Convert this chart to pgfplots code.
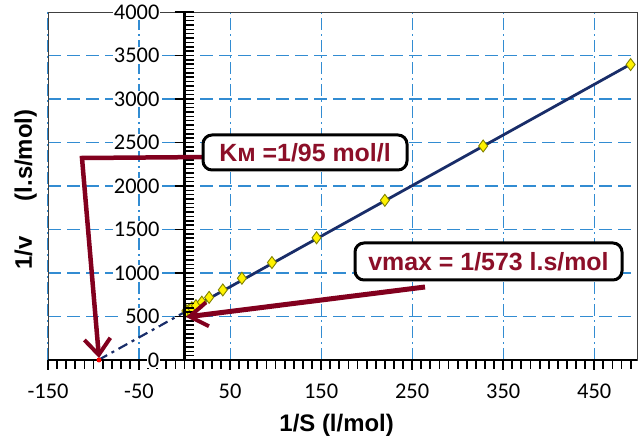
\documentclass[border=0pt]{standalone}
\usepackage{pgfplots}
\pgfplotsset{compat=1.18}
\usepackage{fontspec}
\setmainfont{Liberation Sans}
\newfontfamily\tickfont{Carlito}
\usetikzlibrary{arrows.meta}
\definecolor{gridblue}{RGB}{50,140,210}
\definecolor{navyline}{RGB}{25,45,105}
\definecolor{maroonc}{RGB}{130,0,30}
\definecolor{txtred}{RGB}{140,15,40}
\definecolor{oliveedge}{RGB}{130,130,0}
\begin{document}
\begin{tikzpicture}
\useasboundingbox (0,0) rectangle (640bp,442bp);
\begin{axis}[
  at={(48bp,82bp)}, anchor=south west,
  scale only axis, width=589bp, height=348bp,
  xmin=-150, xmax=497, ymin=0, ymax=4000,
  xtick={-150,-50,...,450},
  ytick={500,1000,...,3500},
  xmajorticks=false, ymajorticks=false,
  axis line style={draw=black!75, line width=0.8bp},
  xmajorgrids, ymajorgrids,
  x grid style={gridblue, line width=1.1bp, dash pattern=on 12bp off 4bp on 2bp off 4bp},
  y grid style={gridblue, line width=1.1bp, dash pattern=on 13bp off 6bp},
  xlabel={1/S (l/mol)},
  xlabel style={font=\bfseries\fontsize{24}{24}\selectfont, at={(axis description cs:0.49,-0.187)}, anchor=center},
  ylabel={1/v\hspace{35bp}(l.s/mol)},
  ylabel style={font=\bfseries\fontsize{24}{24}\selectfont, at={(axis description cs:-0.038,0.49)}, anchor=center},
  clip=false,
]
\addplot[navyline, line width=2.2bp, dash pattern=on 10bp off 5bp on 3bp off 5bp] coordinates {(-94.6,0) (0,550)};
\addplot[navyline, line width=2.8bp] coordinates {(0,550) (490,3400)};
\addplot[only marks, mark=diamond*, mark size=6bp, mark options={fill=yellow, draw=oliveedge, line width=0.9bp}] coordinates {
(2,565) (5,580) (8,600) (12.5,625) (19,665) (27,720) (42,805) (63,940) (96,1120) (145,1405) (220,1835) (328,2460) (490,3396)};
\end{axis}
% x axis (bottom, thick, ticks outside)
\begin{axis}[
  at={(48bp,82bp)}, anchor=south west,
  scale only axis, width=589bp, height=348bp,
  xmin=-150, xmax=497, ymin=0, ymax=4000,
  axis y line=none, axis x line=bottom,
  axis line style={black, line width=2.5bp, -},
  xtick={-150,-50,...,450},
  minor xtick={-150,-140,...,490},
  tick align=outside,
  major tick length=10bp, minor tick length=9bp,
  every tick/.style={black, line width=1.8bp},
  /pgf/number format/assume math mode=true,
  /pgf/number format/1000 sep={},
  xticklabel style={font=\tickfont\fontsize{22.5}{22.5}\selectfont, yshift=-10bp},
]
\addplot[draw=none] coordinates {(0,0)};
\end{axis}
% y axis at x = 0
\begin{axis}[
  at={(48bp,82bp)}, anchor=south west,
  scale only axis, width=589bp, height=348bp,
  xmin=-150, xmax=497, ymin=0, ymax=4000,
  axis x line=none, axis y line=center,
  xtick=\empty,
  axis line style={black, line width=2.5bp, -},
  ytick={0,500,...,4000},
  minor ytick={0,50,...,4000},
  tick align=center,
  major tick length=10bp, minor tick length=9bp,
  major tick style={black, line width=1.6bp, xshift=-5bp},
  minor tick style={black, line width=1.5bp, xshift=4.5bp},
  /pgf/number format/assume math mode=true,
  /pgf/number format/1000 sep={},
  yticklabel style={font=\tickfont\fontsize{22.5}{22.5}\selectfont, fill=white, inner sep=1bp, anchor=east, xshift=-19bp},
]
\addplot[draw=none] coordinates {(0,0)};
\end{axis}
\draw[maroonc, line width=4.5bp, -{Straight Barb[length=16bp, width=26bp, line width=4bp]}] (210bp,285bp) -- (82bp,284bp) -- (99bp,84bp);
\draw[maroonc, line width=5bp, -{Straight Barb[length=18bp, width=24bp, line width=4bp]}] (425bp,155bp) -- (186bp,125bp);
\fill[red] (99bp,82bp) circle (2.5bp);
\node[draw=black, line width=3bp, rounded corners=9bp, fill=white, minimum width=204bp, minimum height=35bp, inner sep=0pt, text=txtred, font=\bfseries\fontsize{25}{25}\selectfont] at (305bp,289.5bp) {Kм =1/95 mol/l};
\node[draw=black, line width=3bp, rounded corners=9bp, fill=white, minimum width=267bp, minimum height=37bp, inner sep=0pt, text=txtred, font=\bfseries\fontsize{25}{25}\selectfont] at (488.5bp,180.5bp) {vmax = 1/573 l.s/mol};
\end{tikzpicture}
\end{document}
